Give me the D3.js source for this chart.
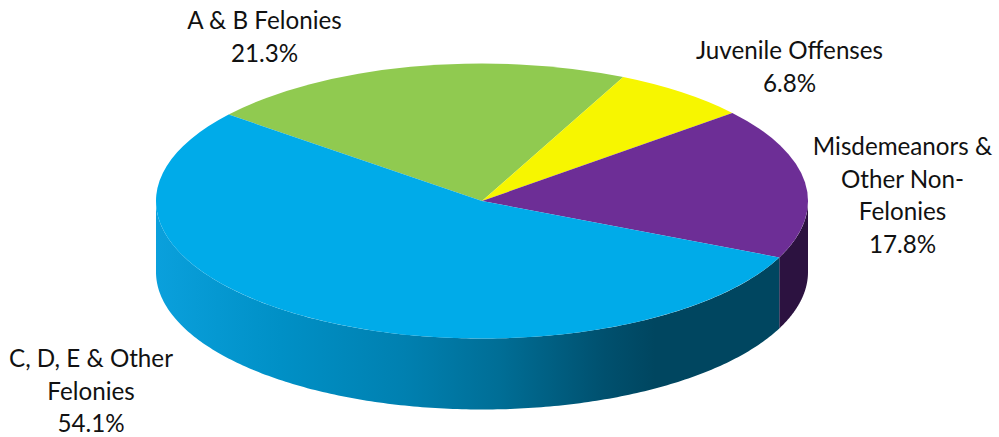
<!DOCTYPE html>
<html><head><meta charset="utf-8">
<script src="https://cdn.jsdelivr.net/npm/d3@7"></script>
<style>html,body{margin:0;padding:0;background:#fff}svg{display:block}text{font-family:Lato,"Open Sans",sans-serif;fill:#111}</style>
</head><body><svg id="c" width="999" height="437"></svg>
<script>
const categories = ["A & B Felonies", "Juvenile Offenses", "Misdemeanors & Other Non-Felonies", "C, D, E & Other Felonies"];
const values = [21.3, 6.8, 17.8, 54.1];
const colors = ["#90ca50", "#f7f600", "#6d2e96", "#00abe9"];
const sideColors = [null, null, "#2c1240", "url(#blueSide)"];
const labelLines = [["A & B Felonies","21.3%"],["Juvenile Offenses","6.8%"],["Misdemeanors &","Other Non-","Felonies","17.8%"],["C, D, E & Other","Felonies","54.1%"]];
const labelAnchors = [[264.5,29],[789.5,59],[902.5,155],[91,367]];

const W = 999, H = 437, cx = 482, cy = 201, rx = 326, ry = 137.5, depth = 71;
const svg = d3.select("#c");
const defs = svg.append("defs");
const grad = defs.append("linearGradient").attr("id","blueSide").attr("gradientUnits","userSpaceOnUse")
  .attr("x1",156).attr("x2",780).attr("y1",0).attr("y2",0);
[[0,"#0aa0dc"],[0.2,"#0090c6"],[0.4,"#0080b0"],[0.55,"#006e96"],[0.72,"#00506e"],[0.8,"#004660"],[1,"#004660"]]
  .forEach(([o,c])=>grad.append("stop").attr("offset",o).attr("stop-color",c));

const startDeg = -51;
const pie = d3.pie().sort(null).value(d=>d)
  .startAngle(startDeg*Math.PI/180).endAngle((startDeg+360)*Math.PI/180);
const arcs = pie(values);

const area = d3.area()
  .x(a=>cx+rx*Math.sin(a))
  .y0(a=>cy-ry*Math.cos(a))
  .y1(a=>cy-ry*Math.cos(a)+depth);
const norm = a=>{let x=a; while(x<0)x+=2*Math.PI; return x;};
arcs.forEach((d,i)=>{
  if(!sideColors[i]) return;
  let s=norm(d.startAngle), e=s+(d.endAngle-d.startAngle);
  s=Math.max(s,Math.PI/2); e=Math.min(e,3*Math.PI/2);
  if(e<=s) return;
  const n=200, pts=d3.range(n+1).map(k=>s+(e-s)*k/n);
  svg.append("path").attr("d",area(pts)).attr("fill",sideColors[i]);
});

const arc = d3.arc().innerRadius(0).outerRadius(rx);
const topFace = svg.append("g").attr("transform",`translate(${cx},${cy}) scale(1,${ry/rx})`);
topFace.selectAll("path").data(arcs).join("path").attr("d",arc).attr("fill",(d,i)=>colors[i]);

labelLines.forEach((lines,i)=>{
  const t=svg.append("text").attr("text-anchor","middle").attr("font-size",24.2);
  lines.forEach((l,k)=>t.append("tspan").attr("x",labelAnchors[i][0]).attr("y",labelAnchors[i][1]+k*32.5).text(l));
});
</script></body></html>
